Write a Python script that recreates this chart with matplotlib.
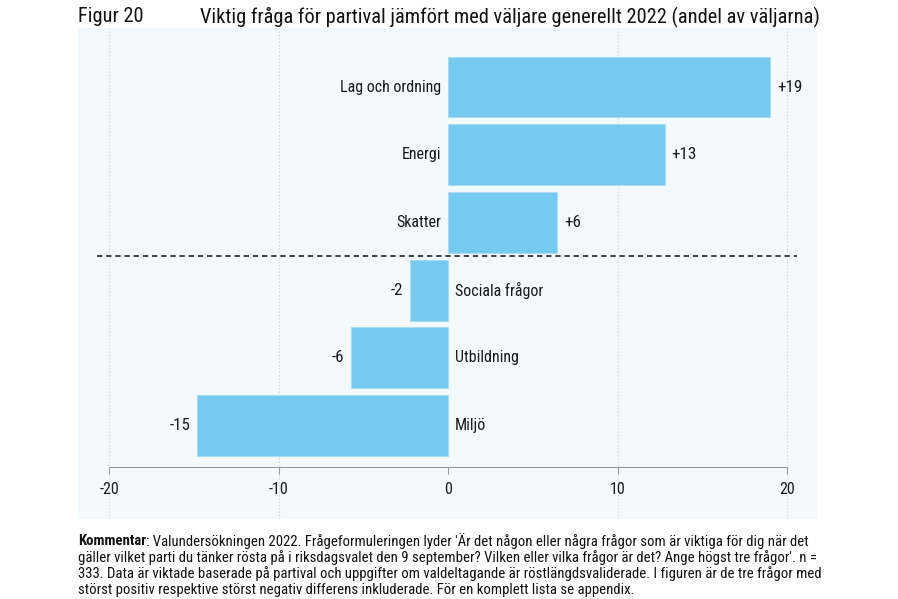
import matplotlib
matplotlib.use("Agg")
from matplotlib import pyplot as plt

categories = ["Lag och ordning", "Energi", "Skatter", "Sociala frågor", "Utbildning", "Miljö"]
values = [19.0, 12.8, 6.45, -2.25, -5.7, -14.8]
value_labels = ["+19", "+13", "+6", "-2", "-6", "-15"]
xticks = [-20, -10, 0, 10, 20]

title_num = "Figur 20"
title = "Viktig fråga för partival jämfört med väljare generellt 2022 (andel av väljarna)"
comment_bold = "Kommentar"
comment_lines = [
    ": Valundersökningen 2022. Frågeformuleringen lyder 'Är det någon eller några frågor som är viktiga för dig när det",
    "gäller vilket parti du tänker rösta på i riksdagsvalet den 9 september? Vilken eller vilka frågor är det? Ange högst tre frågor'. n =",
    "333. Data är viktade baserade på partival och uppgifter om valdeltagande är röstlängdsvaliderade. I figuren är de tre frågor med",
    "störst positiv respektive störst negativ differens inkluderade. För en komplett lista se appendix.",
]

narrow = ['Liberation Sans Narrow', 'Roboto Condensed', 'DejaVu Sans Condensed', 'DejaVu Sans']
plt.rcParams['font.family'] = narrow

W, H = 898, 599
fig = plt.figure(figsize=(W / 100, H / 100), dpi=100)
fig.patch.set_facecolor("white")
renderer = fig.canvas.get_renderer()


def fit(t, target_px):
    # shrink/grow a text until its rendered width matches the reference
    w = t.get_window_extent(renderer).width
    t.set_fontsize(t.get_fontsize() * target_px / w)


# panel in pixel coords
px_l, px_r, px_t, px_b = 78, 817, 28, 519
ax = fig.add_axes([px_l / W, 1 - px_b / H, (px_r - px_l) / W, (px_b - px_t) / H])
ax.set_facecolor("#F3FAFE")

ppu = (787 - 109) / 40.0
ax.set_xlim(-20 - (109 - px_l) / ppu, 20 + (px_r - 787) / ppu)
pitch = 67.7
ax.set_ylim((px_b - 87) / pitch, -(87 - px_t) / pitch)

pos = list(range(len(categories)))
for x in xticks:
    if x != 0:
        ax.axvline(x, color="#CDD1D5", lw=0.8, ls=(0, (1, 2)), zorder=0)

ax.barh(pos, values, height=0.9, color="#76C9EF", edgecolor="#A9DDF5", lw=0.8, zorder=2)

cat_texts = []
val_texts = []
for p, v, c, lab in zip(pos, values, categories, value_labels):
    if v >= 0:
        cat_texts.append(ax.text(-0.4, p, c, ha="right", va="center", fontsize=11.5, color="#1A1A1A"))
        val_texts.append(ax.text(v + 0.4, p, lab, ha="left", va="center", fontsize=11.5, color="#1A1A1A"))
    else:
        cat_texts.append(ax.text(0.4, p, c, ha="left", va="center", fontsize=11.5, color="#1A1A1A"))
        val_texts.append(ax.text(v - 0.4, p, lab, ha="right", va="center", fontsize=11.5, color="#1A1A1A"))

fig.canvas.draw()
w0 = cat_texts[0].get_window_extent(renderer).width
cat_size = 11.5 * 101 / w0
for t in cat_texts:
    t.set_fontsize(cat_size)
w1 = val_texts[0].get_window_extent(renderer).width
val_size = 11.5 * 25 / w1
for t in val_texts:
    t.set_fontsize(val_size)

# divider between positive and negative
ax.plot([-20.7, 20.6], [2.5, 2.5], color="#111111", lw=1.1, ls=(0, (3.5, 2.5)), zorder=3)

for s in ["top", "right", "left"]:
    ax.spines[s].set_visible(False)
ax.spines["bottom"].set_position(("axes", (px_b - 467) / (px_b - px_t)))
ax.spines["bottom"].set_bounds(-20, 20)
ax.spines["bottom"].set_color("#9A9A9A")
ax.set_xticks(xticks)
ax.set_xticklabels([str(t) for t in xticks], fontsize=11.5, color="#1A1A1A")
ax.tick_params(axis="x", direction="out", length=5, color="#9A9A9A", pad=6)
ax.set_yticks([])

tn = fig.text(px_l / W, 1 - 17 / H, title_num, ha="left", va="center", fontsize=13.5, color="#111111")
tt = fig.text(200 / W, 1 - 17 / H, title, ha="left", va="center", fontsize=13.5, color="#111111")
fig.canvas.draw()
fit(tt, 618)
tn.set_fontsize(tt.get_fontsize())

y0 = 541
kb = fig.text(px_l / W, 1 - y0 / H, comment_bold, ha="left", va="center", fontsize=10.5, weight="bold", color="#111111")
rest = [ax.annotate(comment_lines[0], xy=(1, 0.5), xycoords=kb, ha="left", va="center", fontsize=10.5, color="#111111")]
for i, line in enumerate(comment_lines[1:], start=1):
    rest.append(fig.text(px_l / W, 1 - (y0 + 16.3 * i) / H, line, ha="left", va="center", fontsize=10.5, color="#111111"))
fig.canvas.draw()
w2 = rest[1].get_window_extent(renderer).width
csize = 10.5 * 740 / w2
kb.set_fontsize(csize)
for t in rest:
    t.set_fontsize(csize)

fig.savefig("out.png", dpi=100, facecolor="white")
